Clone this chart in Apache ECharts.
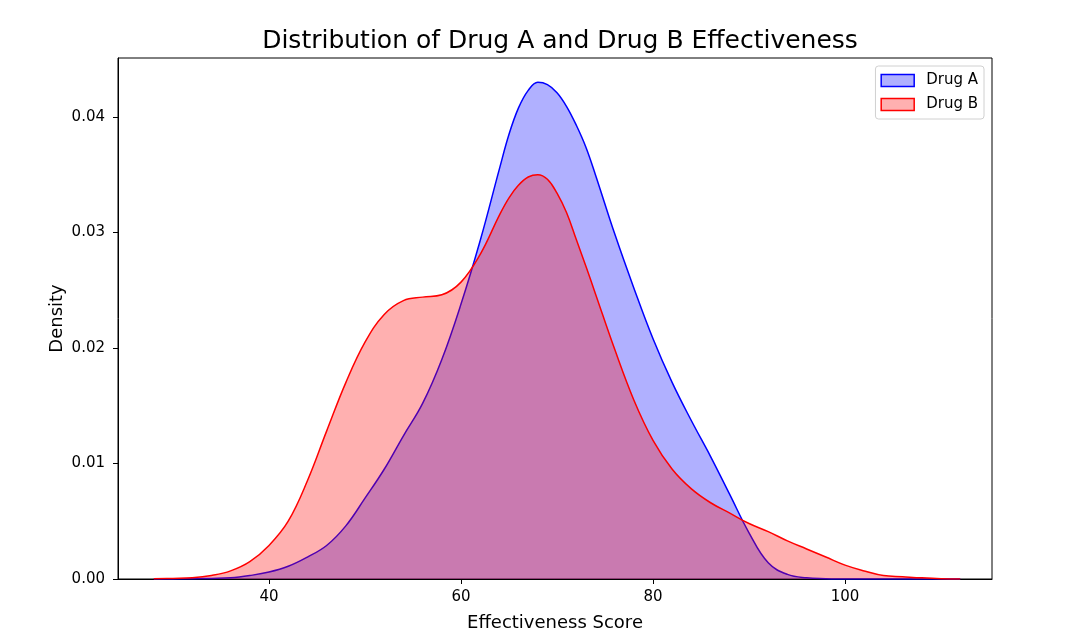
<!DOCTYPE html>
<html>
<head>
<meta charset="utf-8">
<script src="https://cdn.jsdelivr.net/npm/echarts@6/dist/echarts.min.js"></script>
<style>
  html, body { margin: 0; padding: 0; background: #fff; }
  #main { width: 1080px; height: 644px; }
</style>
</head>
<body>
<div id="main"></div>
<script>
var dom = document.getElementById("main");
var myChart = echarts.init(dom);

// effectiveness score grid (x) and density
var scores = [28, 30, 32, 34, 36, 38, 40, 42, 44, 46, 48, 50, 52, 54, 56, 58, 60, 62, 64, 65, 66, 67, 68, 69, 70,
  71, 72, 73, 74, 76, 78, 80, 82, 84, 86, 88, 90, 92, 94, 96, 98, 100, 102, 104, 106, 108, 110, 112];
var drugA = [0, 0, 0.00002, 0.00005, 0.0001, 0.0003, 0.0006, 0.0011, 0.0019, 0.0029, 0.0046, 0.0070,
  0.0095, 0.0124, 0.0152, 0.0190, 0.0238, 0.0293, 0.0355, 0.0385, 0.0408, 0.0423, 0.0430, 0.0428, 0.0421,
  0.0409, 0.0393, 0.0374, 0.0350, 0.0299, 0.0252, 0.0208, 0.0170, 0.0137, 0.0106, 0.0073, 0.0040, 0.0014, 0.0004,
  0.0001, 0.00003, 0, 0, 0, 0, 0, 0, 0];
var drugB = [0.00002, 0.00005, 0.0001, 0.0003, 0.0007, 0.0015, 0.0029, 0.0050, 0.0085, 0.0128, 0.0170, 0.0205,
  0.0229, 0.0241, 0.0244, 0.0246, 0.0257, 0.0281, 0.0315, 0.0330, 0.0341, 0.0348, 0.0350, 0.0346, 0.0334,
  0.0317, 0.0294, 0.0271, 0.0247, 0.0199, 0.0155, 0.0120, 0.0095, 0.0078, 0.0066, 0.0057, 0.0048, 0.0041, 0.0033,
  0.0026, 0.0019, 0.0012, 0.0007, 0.0003, 0.0002, 0.0001, 0.00003, 0];
var xTicks = [40, 60, 80, 100];
var yTicks = [0, 0.01, 0.02, 0.03, 0.04];

function pairs(ys) {
  return scores.map(function (x, i) { return [x, ys[i]]; });
}

var font = "DejaVu Sans";

var option = {
  animation: false,
  title: {
    text: "Distribution of Drug A and Drug B Effectiveness",
    left: 555,
    textAlign: "center",
    top: 24,
    textStyle: { fontFamily: font, fontSize: 25, fontWeight: "normal", color: "#000" }
  },
  legend: {
    right: 96,
    top: 66,
    orient: "vertical",
    itemWidth: 33,
    itemHeight: 12,
    itemGap: 9,
    padding: [7, 6, 7, 5],
    backgroundColor: "#fff",
    borderColor: "#d0d0d0",
    borderWidth: 1,
    borderRadius: 3,
    textStyle: { fontFamily: font, fontSize: 15, color: "#000", padding: [0, 0, 0, 7] },
    data: [
      { name: "Drug A", icon: "rect", itemStyle: { color: "rgba(0,0,255,0.31)", borderColor: "#0000ff", borderWidth: 1.5 } },
      { name: "Drug B", icon: "rect", itemStyle: { color: "rgba(255,0,0,0.31)", borderColor: "#ff0000", borderWidth: 1.5 } }
    ]
  },
  grid: {
    left: 118, right: 88, top: 58, bottom: 65,
    show: true, borderColor: "#000", borderWidth: 1, backgroundColor: "transparent"
  },
  xAxis: {
    type: "value",
    min: 24.27,
    max: 115.31,
    name: "Effectiveness Score",
    nameLocation: "middle",
    nameGap: 35,
    nameTextStyle: { fontFamily: font, fontSize: 18, color: "#000" },
    axisLine: { show: true, onZero: false, lineStyle: { color: "#000", width: 1 } },
    axisTick: { show: true, length: 5, customValues: xTicks, lineStyle: { color: "#000" } },
    axisLabel: { customValues: xTicks, fontFamily: font, fontSize: 15, color: "#000", margin: 11 },
    splitLine: { show: false }
  },
  yAxis: {
    type: "value",
    min: 0,
    max: 0.0451,
    name: "Density",
    nameLocation: "middle",
    nameGap: 52,
    nameMoveOverlap: false,
    nameTextStyle: { fontFamily: font, fontSize: 18, color: "#000" },
    axisLine: { show: true, lineStyle: { color: "#000", width: 1 } },
    axisTick: { show: true, length: 5, customValues: yTicks, lineStyle: { color: "#000" } },
    axisLabel: {
      customValues: yTicks, fontFamily: font, fontSize: 15, color: "#000", margin: 13,
      formatter: function (v) { return v.toFixed(2); }
    },
    splitLine: { show: false }
  },
  series: [
    {
      name: "Drug A",
      type: "line",
      z: 2,
      data: pairs(drugA),
      smooth: 0.4,
      showSymbol: false,
      lineStyle: { color: "#0000ff", width: 1.5 },
      itemStyle: { color: "#0000ff" },
      areaStyle: { color: "#0000ff", opacity: 0.31 }
    },
    {
      name: "Drug B",
      type: "line",
      z: 3,
      data: pairs(drugB),
      smooth: 0.4,
      showSymbol: false,
      lineStyle: { color: "#ff0000", width: 1.5 },
      itemStyle: { color: "#ff0000" },
      areaStyle: { color: "#ff0000", opacity: 0.31 }
    }
  ]
};

myChart.setOption(option);
</script>
</body>
</html>
